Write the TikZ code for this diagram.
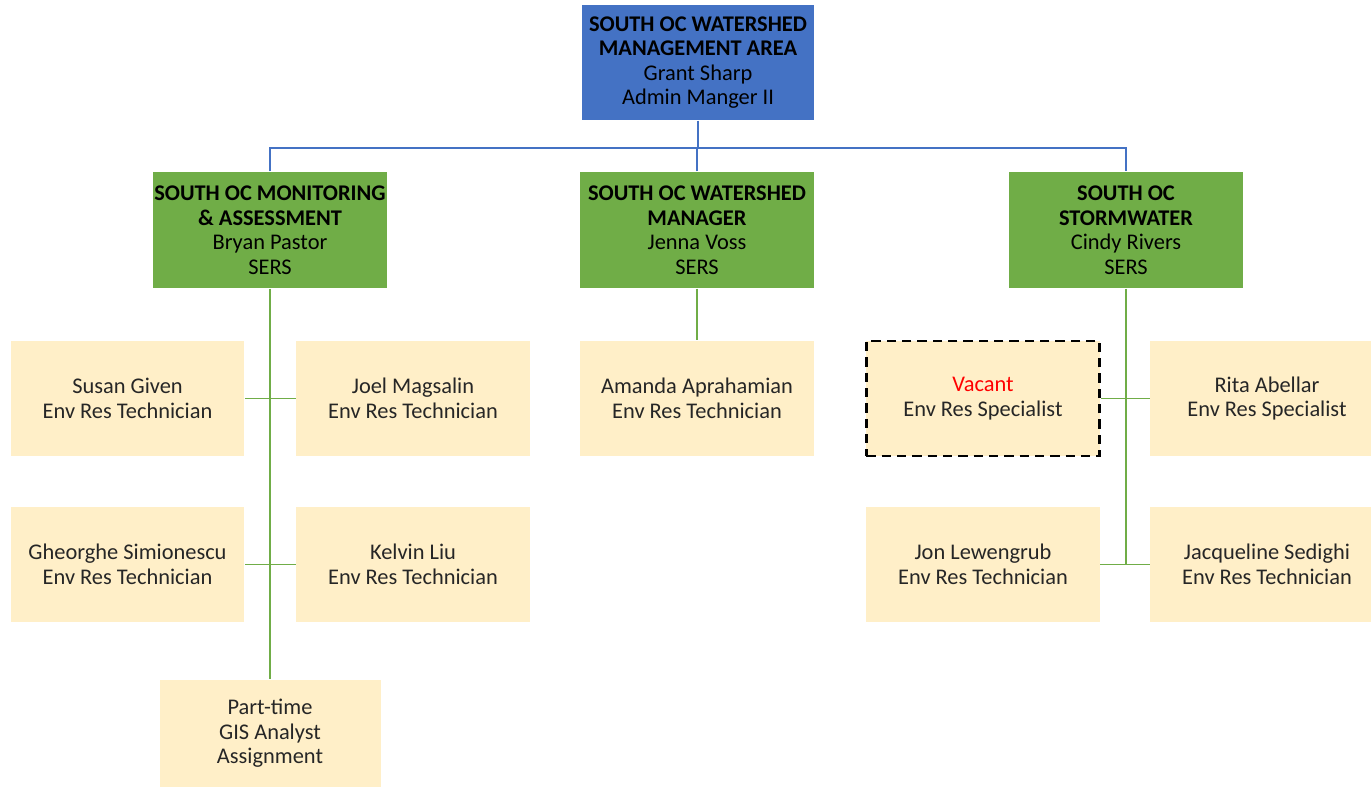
\documentclass[tikz,border=0pt]{standalone}
\usepackage{fontspec}
\setmainfont{Carlito}
\tikzset{
every picture/.style={
line width=1.1pt
}}
\definecolor{headblue}{HTML}{4472C4}
\definecolor{leadgreen}{HTML}{70AD47}
\definecolor{staffyellow}{HTML}{FFEFC8}

\begin{document}
\begin{tikzpicture}[x=0.75pt, y=-0.75pt,
font=\fontsize{16.8}{18.4}\selectfont,
head/.style = {rectangle, fill=headblue, text=black, align=center, minimum width=174pt, minimum height=86.25pt, inner sep=0pt},
lead/.style = {rectangle, fill=leadgreen, text=black, align=center, minimum width=175.5pt, minimum height=87pt, inner sep=0pt},
staff/.style = {rectangle, fill=staffyellow, text=black!85, align=center, minimum width=175pt, minimum height=86.25pt, inner sep=0pt},
vacant/.style = {staff, draw=black, line width=2pt, dash pattern=on 7pt off 4.5pt},
blueline/.style = {headblue},
greenline/.style = {leadgreen}]

\useasboundingbox (0,0) rectangle (1371,788);

% management
\node [head] (area) at (698,62.5) {\textbf{SOUTH OC WATERSHED}\\\textbf{MANAGEMENT AREA}\\Grant Sharp\\Admin Manger II};

\node [lead] (monitor) at (270,230) {\textbf{SOUTH OC MONITORING}\\\textbf{\& ASSESSMENT}\\Bryan Pastor\\SERS};
\node [lead] (manager) at (697,230) {\textbf{SOUTH OC WATERSHED}\\\textbf{MANAGER}\\Jenna Voss\\SERS};
\node [lead] (storm) at (1126,230) {\textbf{SOUTH OC}\\\textbf{STORMWATER}\\Cindy Rivers\\SERS};

% staff
\node [staff] (susan) at (127.5,398.5) {Susan Given\\Env Res Technician};
\node [staff] (joel) at (413,398.5) {Joel Magsalin\\Env Res Technician};
\node [staff] (gheorghe) at (127.5,564.5) {Gheorghe Simionescu\\Env Res Technician};
\node [staff] (kelvin) at (413,564.5) {Kelvin Liu\\Env Res Technician};
\node [staff, minimum width=165.75pt, minimum height=80.25pt] (parttime) at (270,733.5) {Part-time\\GIS Analyst\\Assignment};

\node [staff] (amanda) at (697,398.5) {Amanda Aprahamian\\Env Res Technician};

\node [vacant] (vacancy) at (983,398.5) {\textcolor{red}{Vacant}\\Env Res Specialist};
\node [staff] (rita) at (1267,398.5) {Rita Abellar\\Env Res Specialist};
\node [staff] (jon) at (983,564.5) {Jon Lewengrub\\Env Res Technician};
\node [staff] (jacq) at (1267,564.5) {Jacqueline Sedighi\\Env Res Technician};

\coordinate (hub) at (698,148);

\draw [blueline] (area) -- (hub);
\draw [blueline] (monitor.north) |- (hub) -| (storm.north);
\draw [blueline] (manager.north) -- (manager.north |- hub);

\draw [greenline] (monitor.south) -- (parttime.north);
\draw [greenline] (susan.east) -- (joel.west);
\draw [greenline] (gheorghe.east) -- (kelvin.west);
\draw [greenline] (manager.south) -- (amanda.north);
\draw [greenline] (storm.south) |- (jacq.west);
\draw [greenline] (vacancy.east) -- (rita.west);
\draw [greenline] (jon.east) -- (jacq.west);

\end{tikzpicture}
\end{document}
